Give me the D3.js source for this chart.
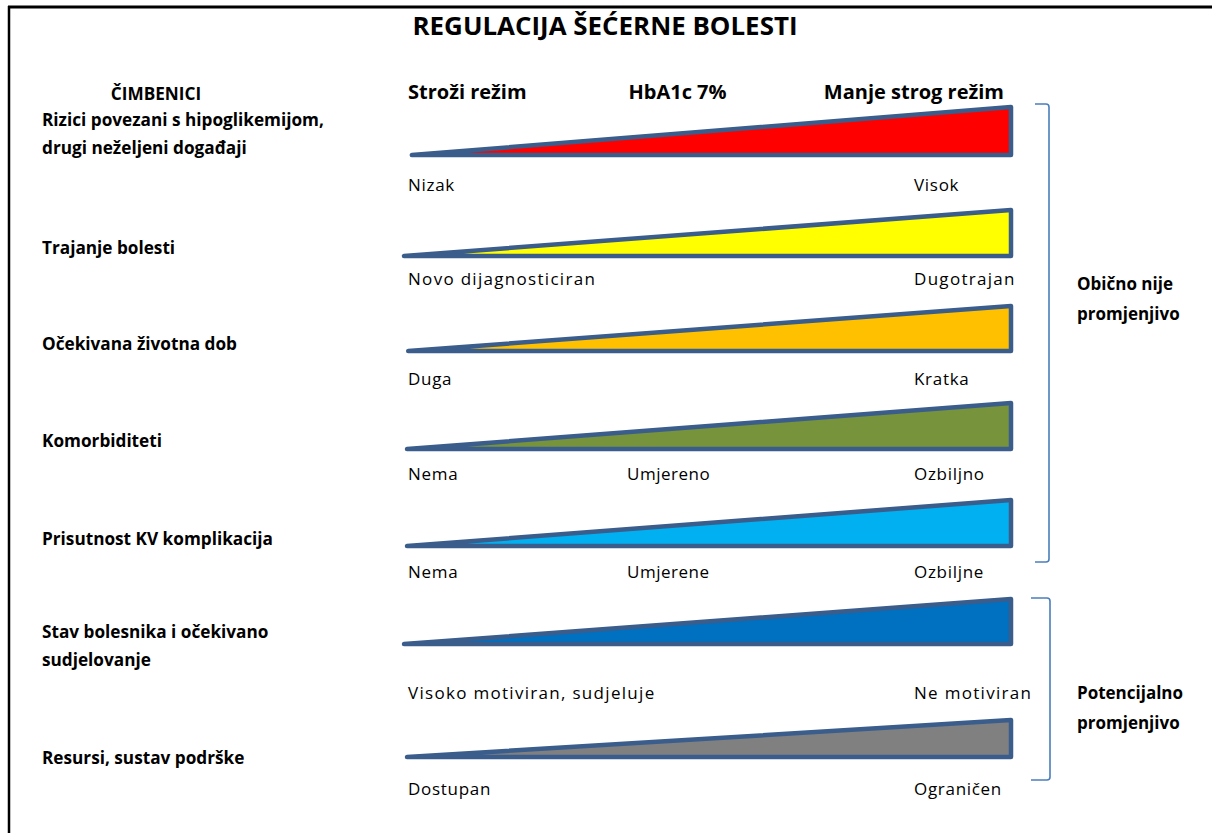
<!DOCTYPE html>
<html lang="hr">
<head>
  <meta charset="utf-8"/>
  <title>Regulacija šećerne bolesti</title>
  <script src="https://d3js.org/d3.v7.min.js"></script>
  <style>
    body { margin: 0; background: #fff; }
    svg text { font-family: "Open Sans", Lato, sans-serif; fill: #000; }
    .bold { font-weight: bold; }
  </style>
</head>
<body>
<div id="chart"></div>
<script>
  // podaci
  var factors = [
    ["Rizici povezani s hipoglikemijom,", "drugi neželjeni događaji"],
    ["Trajanje bolesti"],
    ["Očekivana životna dob"],
    ["Komorbiditeti"],
    ["Prisutnost KV komplikacija"],
    ["Stav bolesnika i očekivano", "sudjelovanje"],
    ["Resursi, sustav podrške"]
  ];
  var fills = ["#ff0000", "#ffff00", "#ffc000", "#77933c", "#00b0f0", "#0070c0", "#808080"];
  var lowLabels = ["Nizak", "Novo dijagnosticiran", "Duga", "Nema", "Nema", "Visoko motiviran, sudjeluje", "Dostupan"];
  var midLabels = ["", "", "", "Umjereno", "Umjerene", "", ""];
  var highLabels = ["Visok", "Dugotrajan", "Kratka", "Ozbiljno", "Ozbiljne", "Ne motiviran", "Ograničen"];
  var wedgeRise = [48, 46, 45, 46, 46, 45, 37];   // visina klina na desnom kraju
  var wedgeStart = [0.003, -0.010, -0.003, -0.005, -0.005, -0.010, -0.005];
  var headers = ["Stroži režim", "HbA1c 7%", "Manje strog režim"];
  var groups = [
    {label: ["Obično nije", "promjenjivo"], from: 0, to: 4},
    {label: ["Potencijalno", "promjenjivo"], from: 5, to: 6}
  ];

  // raspored
  var W = 1212, H = 833;
  var rowBase = [155, 256, 351, 449, 546, 644, 757];

  var svg = d3.select('#chart').append('svg')
      .attr('width', W).attr('height', H);

  // okvir
  svg.append('line').attr('x1', 8).attr('x2', W).attr('y1', 7).attr('y2', 7)
     .attr('stroke', '#000').attr('stroke-width', 3);
  svg.append('line').attr('x1', 9).attr('x2', 9).attr('y1', 6).attr('y2', H)
     .attr('stroke', '#000').attr('stroke-width', 2.5);

  svg.append('text').attr('class', 'bold')
     .attr('x', 605).attr('y', 25).attr('text-anchor', 'middle')
     .attr('dominant-baseline', 'central')
     .attr('font-size', 25)
     .attr('textLength', 385).attr('lengthAdjust', 'spacingAndGlyphs')
     .text('REGULACIJA ŠEĆERNE BOLESTI');

  var x = d3.scaleLinear().domain([0, 1]).range([410, 1011]);
  var rise = d3.scaleLinear().domain([0, 50]).range([0, -50]);

  svg.append('text').attr('class', 'bold')
     .attr('x', 156).attr('y', 93).attr('text-anchor', 'middle')
     .attr('dominant-baseline', 'central').attr('font-size', 17.2)
     .text('ČIMBENICI');

  var headerPos = [0, 0.5, 1];
  var headerAnchor = ['start', 'middle', 'end'];
  svg.selectAll('.hdr').data(headers).enter().append('text')
     .attr('class', 'hdr bold')
     .attr('x', function(d, i) { return x(headerPos[i]) + [-2, -33, -7][i]; })
     .attr('y', 91).attr('dominant-baseline', 'central')
     .attr('text-anchor', function(d, i) { return headerAnchor[i]; })
     .attr('font-size', 20)
     .text(function(d) { return d; });

  var rows = svg.selectAll('.row').data(factors).enter().append('g')
     .attr('class', 'row')
     .attr('transform', function(d, i) { return 'translate(0,' + rowBase[i] + ')'; });

  // klinovi
  rows.append('path')
     .attr('d', function(d, i) {
       return 'M' + x(wedgeStart[i]) + ',0 L' + x(1) + ',' + rise(wedgeRise[i]) +
              ' L' + x(1) + ',0 Z';
     })
     .attr('fill', function(d, i) { return fills[i]; })
     .attr('stroke', '#3a5d8c')
     .attr('stroke-width', 4.5)
     .attr('stroke-linejoin', 'round')
     .attr('stroke-linecap', 'round');

  // nazivi čimbenika
  var nameDy = [-36, -9, -8, -9, -8, -13, 0];
  rows.each(function(d, i) {
    var g = d3.select(this);
    d.forEach(function(line, k) {
      g.append('text').attr('class', 'bold')
       .attr('x', 42)
       .attr('y', nameDy[i] + k * 28)
       .attr('dominant-baseline', 'central')
       .attr('font-size', 17.2)
       .text(line);
    });
  });

  // oznake ispod klinova
  var labelDy = [29, 22, 27, 24, 25, 48, 31];
  var spaced = [false, true, false, false, false, true, false];
  rows.append('text')
     .attr('x', 408).attr('y', function(d, i) { return labelDy[i]; })
     .attr('dominant-baseline', 'central').attr('font-size', 17)
     .attr('letter-spacing', function(d, i) { return spaced[i] ? 1.3 : 0.7; })
     .text(function(d, i) { return lowLabels[i]; });
  rows.append('text')
     .attr('x', 627).attr('y', function(d, i) { return labelDy[i]; })
     .attr('dominant-baseline', 'central').attr('font-size', 17)
     .attr('letter-spacing', 0.5)
     .text(function(d, i) { return midLabels[i]; });
  rows.append('text')
     .attr('x', 914).attr('y', function(d, i) { return labelDy[i]; })
     .attr('dominant-baseline', 'central').attr('font-size', 17)
     .attr('letter-spacing', function(d, i) { return spaced[i] ? 1.3 : 0.7; })
     .text(function(d, i) { return highLabels[i]; });

  // zagrade
  var brackets = [
    {x0: 1035, x1: 1049, y0: 104, y1: 562},
    {x0: 1031, x1: 1050, y0: 598, y1: 780}
  ];
  svg.selectAll('.brk').data(groups).enter().append('path')
     .attr('class', 'brk')
     .attr('d', function(d, i) {
       var b = brackets[i];
       return 'M' + b.x0 + ',' + b.y0 + ' L' + (b.x1 - 3) + ',' + b.y0 +
              ' Q' + b.x1 + ',' + b.y0 + ' ' + b.x1 + ',' + (b.y0 + 3) +
              ' L' + b.x1 + ',' + (b.y1 - 3) +
              ' Q' + b.x1 + ',' + b.y1 + ' ' + (b.x1 - 3) + ',' + b.y1 +
              ' L' + b.x0 + ',' + b.y1;
     })
     .attr('fill', 'none').attr('stroke', '#4a7ebb').attr('stroke-width', 1.6);

  var groupY = [283, 692];
  svg.selectAll('.grp').data(groups).enter().append('g')
     .attr('class', 'grp')
     .each(function(d, i) {
       var g = d3.select(this);
       d.label.forEach(function(line, k) {
         g.append('text').attr('class', 'bold')
          .attr('x', 1077).attr('y', groupY[i] + k * 30)
          .attr('dominant-baseline', 'central').attr('font-size', 17)
          .text(line);
       });
     });
</script>
</body>
</html>
